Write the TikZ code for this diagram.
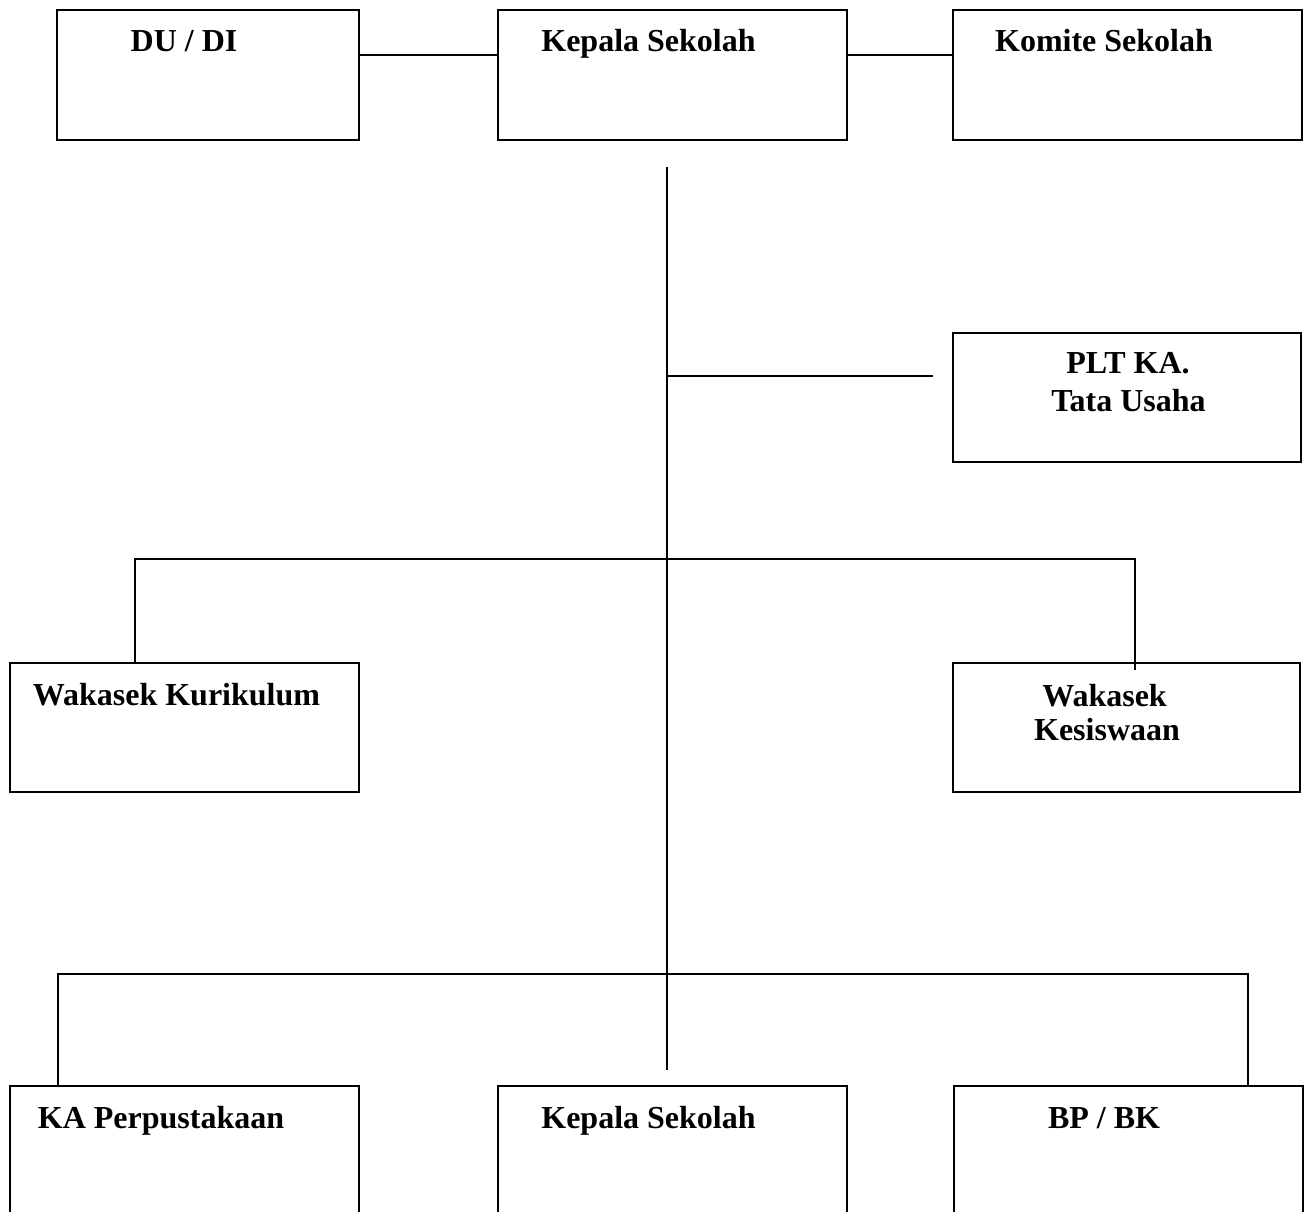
\documentclass[tikz,border=0pt]{standalone}
\usepackage{fontspec}
\setmainfont{Liberation Serif}
\begin{document}
\begin{tikzpicture}[
	x=1pt, y=-1pt,
	% --- STYLES ---
	unit/.style={
		draw,
		line width=2pt,
		minimum width=349pt,
		minimum height=130pt,
		inner sep=0pt
	},
	caption/.style={
		anchor=base,
		inner sep=0pt,
		font=\fontsize{32}{38}\selectfont\bfseries
	},
	line/.style={
		line width=2pt
	}
	]
	\path[use as bounding box, clip] (0,0) rectangle (1309,1212);

	% --- Boxes ---
	\node[unit, minimum width=302pt] (dudi) at (208,75) {};
	\node[unit] (kepala) at (672.5,75) {};
	\node[unit] (komite) at (1127.5,75) {};
	\node[unit, minimum width=348pt, minimum height=129pt] (tu) at (1127,397.5) {};
	\node[unit, minimum height=129pt] (kuri) at (184.5,727.5) {};
	\node[unit, minimum width=347pt, minimum height=129pt] (kesis) at (1126.5,727.5) {};
	\node[unit, minimum height=140pt] (perpus) at (184.5,1156) {};
	\node[unit, minimum height=140pt] (kepala2) at (672.5,1156) {};
	\node[unit, minimum height=140pt] (bpbk) at (1128.5,1156) {};

	% --- Texts ---
	\node[caption] (dudi-t) at (184,52) {DU / DI};
	\node[caption] (kepala-t) at (648.5,52) {Kepala Sekolah};
	\node[caption] (komite-t) at (1104,52) {Komite Sekolah};
	\node[caption] (tu-t1) at (1128,373) {PLT KA.};
	\node[caption] (tu-t2) at (1128.5,411) {Tata Usaha};
	\node[caption] (kuri-t) at (176.5,705) {Wakasek Kurikulum};
	\node[caption] (kesis-t1) at (1104.5,706) {Wakasek};
	\node[caption] (kesis-t2) at (1107,740) {Kesiswaan};
	\node[caption] (perpus-t) at (161,1128) {KA Perpustakaan};
	\node[caption] (kepala2-t) at (648.5,1128) {Kepala Sekolah};
	\node[caption] (bpbk-t) at (1104,1128) {BP / BK};

	% --- Connections ---
	\draw[line] ([yshift=20pt]dudi.east) -- ([yshift=20pt]kepala.west);
	\draw[line] ([yshift=20pt]kepala.east) -- ([yshift=20pt]komite.west);

	\coordinate (trunk-top) at (667,167);
	\coordinate (trunk-end) at (667,1070);
	\draw[line] (trunk-top) -- (trunk-end);

	\coordinate (tu-end) at (933,376);
	\draw[line] (trunk-top |- tu-end) -- (tu-end);

	\coordinate (wk-bar) at (667,559);
	\draw[line] ([xshift=-49.5pt]kuri.north) |- (wk-bar) -| ([xshift=8.5pt, yshift=-8pt]kesis.north);

	\coordinate (staff-bar) at (667,974);
	\draw[line] ([xshift=-126.5pt]perpus.north) |- (staff-bar) -| ([xshift=119.5pt]bpbk.north);

\end{tikzpicture}
\end{document}
